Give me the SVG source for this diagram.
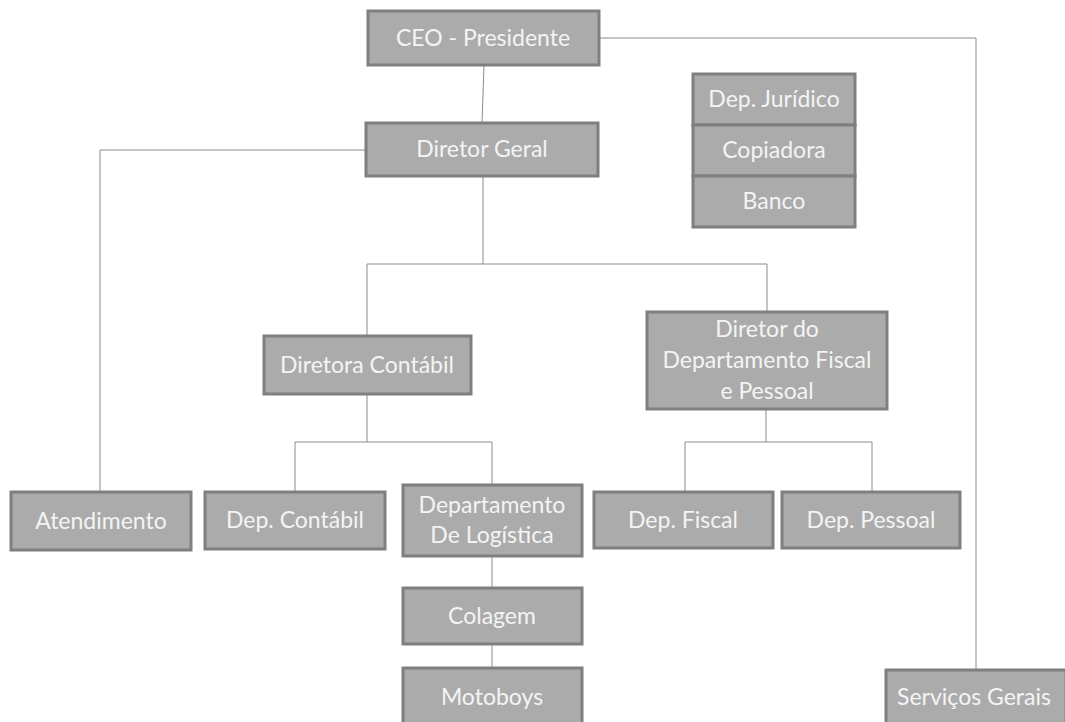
<svg xmlns="http://www.w3.org/2000/svg" width="1065" height="722" viewBox="0 0 1065 722">
<style>
.box{fill:#ababab;stroke:#7f7f7f;stroke-width:3}
.t{font-family:Lato,"Open Sans",sans-serif;font-size:23px;fill:#f4f4f4;text-anchor:middle}
.c{fill:none;stroke:#8c8c8c;stroke-width:1}
</style>
<rect width="1065" height="722" fill="#ffffff"/>
<g id="connectors">
<path class="c" d="M484,65 L482,123" stroke="#b5b5b5"/>
<path class="c" d="M600,38 H976 V670"/>
<path class="c" d="M366,150 H100 V492"/>
<path class="c" d="M483,177 V264 M367,336 V264 H767 V312"/>
<path class="c" d="M367,394 V442 M295,492 V442 H492 V485"/>
<path class="c" d="M766,409 V442 M685,492 V442 H872 V492"/>
<path class="c" d="M492,556 V588 M492,644 V668"/>
</g>
<g id="ceo"><rect class="box" x="368" y="11" width="231" height="54"/><text class="t" x="483" y="46">CEO - Presidente</text></g>
<g id="diretor-geral"><rect class="box" x="366" y="123" width="232" height="53"/><text class="t" x="482" y="157">Diretor Geral</text></g>
<g id="dep-juridico"><rect class="box" x="693" y="74" width="162" height="51"/><text class="t" x="774" y="107">Dep. Jurídico</text></g>
<g id="copiadora"><rect class="box" x="693" y="125" width="162" height="51"/><text class="t" x="774" y="158">Copiadora</text></g>
<g id="banco"><rect class="box" x="693" y="176" width="162" height="51"/><text class="t" x="774" y="209">Banco</text></g>
<g id="diretora-contabil"><rect class="box" x="264" y="336" width="207" height="58"/><text class="t" x="367" y="373">Diretora Contábil</text></g>
<g id="diretor-fiscal-pessoal"><rect class="box" x="647" y="312" width="240" height="97"/><text class="t" x="767" y="337">Diretor do</text><text class="t" x="767" y="368">Departamento Fiscal</text><text class="t" x="767" y="399">e Pessoal</text></g>
<g id="atendimento"><rect class="box" x="11" y="492" width="180" height="58"/><text class="t" x="101" y="529">Atendimento</text></g>
<g id="dep-contabil"><rect class="box" x="205" y="492" width="180" height="57"/><text class="t" x="295" y="528">Dep. Contábil</text></g>
<g id="dep-logistica"><rect class="box" x="403" y="485" width="179" height="71"/><text class="t" x="492" y="513">Departamento</text><text class="t" x="492" y="543">De Logística</text></g>
<g id="dep-fiscal"><rect class="box" x="594" y="492" width="179" height="56"/><text class="t" x="683" y="528">Dep. Fiscal</text></g>
<g id="dep-pessoal"><rect class="box" x="782" y="492" width="178" height="56"/><text class="t" x="871" y="528">Dep. Pessoal</text></g>
<g id="colagem"><rect class="box" x="403" y="588" width="179" height="56"/><text class="t" x="492" y="624">Colagem</text></g>
<g id="motoboys"><rect class="box" x="403" y="668" width="179" height="60"/><text class="t" x="492" y="705">Motoboys</text></g>
<g id="servicos-gerais"><rect class="box" x="886" y="670" width="180" height="60"/><text class="t" x="974" y="705">Serviços Gerais</text></g>
</svg>
